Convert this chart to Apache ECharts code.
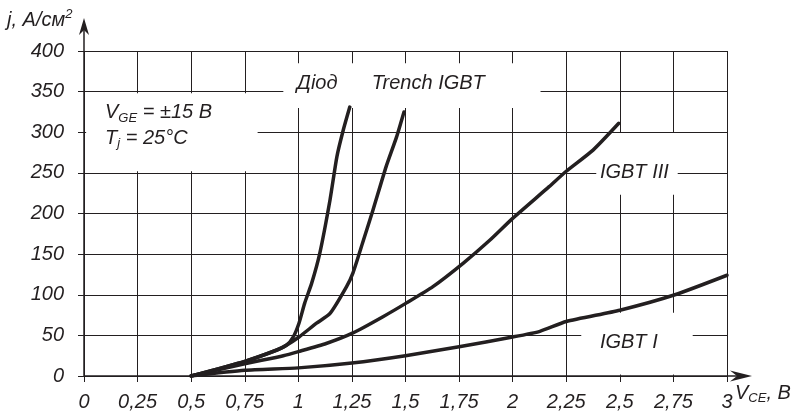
<!DOCTYPE html>
<html>
<head>
<meta charset="utf-8">
<script src="https://cdn.jsdelivr.net/npm/echarts@6/dist/echarts.min.js"></script>
<style>
  html, body { margin: 0; padding: 0; background: #fff; }
  #chart { width: 793px; height: 416px; }
</style>
</head>
<body>
<div id="chart"></div>
<script>
const xTickLabels = ['0', '0,25', '0,5', '0,75', '1', '1,25', '1,5', '1,75', '2', '2,25', '2,5', '2,75', '3'];
const yTickLabels = ['0', '50', '100', '150', '200', '250', '300', '350', '400'];

// V_CE, B  ->  j, A/cm2
const diodeV = [0.5, 0.75, 0.9, 0.945, 0.976, 1.003, 1.03, 1.062, 1.1, 1.148, 1.18, 1.21, 1.24];
const diodeJ = [0, 18, 32, 38, 48, 65, 90, 114, 151, 217, 270, 303, 331];

const trenchV = [0.5, 0.75, 0.9, 0.945, 1.003, 1.085, 1.148, 1.225, 1.255, 1.3, 1.348, 1.41, 1.458, 1.493];
const trenchJ = [0, 18, 32, 38, 48, 65, 77, 110, 127, 164, 204, 258, 294, 325];

const igbt3V = [0.5, 0.75, 0.93, 1.0, 1.13, 1.255, 1.395, 1.505, 1.628, 1.77, 1.893, 2.0, 2.17, 2.25, 2.375, 2.495];
const igbt3J = [0, 15, 25, 30, 40, 53, 73, 90, 110, 139, 167, 194, 233, 252, 278, 311];

const igbt1V = [0.5, 0.75, 1.0, 1.25, 1.5, 1.75, 2.0, 2.127, 2.25, 2.5, 2.757, 3.0];
const igbt1J = [0, 7, 10, 16, 25, 36, 48, 55, 67, 81, 100, 124];

const ink = '#231f20';
const font = '"Liberation Sans", Arial, sans-serif';

const chart = echarts.init(document.getElementById('chart'));

const pairs = (xs, ys) => xs.map((x, i) => [x, ys[i]]);
const curve = (name, xs, ys) => ({
  name,
  type: 'line',
  data: pairs(xs, ys),
  symbol: 'none',
  smooth: 0.2,
  lineStyle: { color: ink, width: 3.5, cap: 'round', join: 'round' },
  z: 5
});

const labelStyle = {
  fontStyle: 'italic',
  fontSize: 20,
  color: ink,
  fontFamily: font
};

chart.setOption({
  animation: false,
  grid: { left: 84, right: 66, top: 51, bottom: 40 },
  xAxis: {
    type: 'value',
    min: 0,
    max: 3,
    interval: 0.25,
    axisLine: { show: false },
    axisTick: { show: true, length: 6, lineStyle: { color: ink } },
    axisLabel: Object.assign({ margin: 16, formatter: v => xTickLabels[Math.round(v / 0.25)] }, labelStyle),
    splitLine: { lineStyle: { color: ink, width: 1 } }
  },
  yAxis: {
    type: 'value',
    min: 0,
    max: 400,
    interval: 50,
    axisLine: { show: false },
    axisTick: { show: true, length: 6, lineStyle: { color: ink } },
    axisLabel: Object.assign({ margin: 20, formatter: v => yTickLabels[Math.round(v / 50)] }, labelStyle),
    splitLine: { lineStyle: { color: ink, width: 1 } }
  },
  series: [
    curve('Діод', diodeV, diodeJ),
    curve('Trench IGBT', trenchV, trenchJ),
    curve('IGBT III', igbt3V, igbt3J),
    curve('IGBT I', igbt1V, igbt1J)
  ]
});

// annotations and axis arrows
const px = p => chart.convertToPixel({ gridIndex: 0 }, p);
const [x0, y0] = px([0, 0]);
const [, yTop] = px([0, 400]);
const [xEnd] = px([3, 0]);

const box = (xa, ya, xb, yb) => {
  const a = px([xa, ya]);
  const b = px([xb, yb]);
  return {
    type: 'rect',
    shape: { x: Math.min(a[0], b[0]), y: Math.min(a[1], b[1]), width: Math.abs(b[0] - a[0]), height: Math.abs(b[1] - a[1]) },
    style: { fill: '#fff' },
    z: 1
  };
};

const rich = {
  i: { fontStyle: 'italic', fontSize: 20, fontFamily: font, color: ink, lineHeight: 24 },
  s: { fontStyle: 'italic', fontSize: 13, fontFamily: font, color: ink, lineHeight: 13, verticalAlign: 'bottom' },
  sup: { fontStyle: 'italic', fontSize: 13, fontFamily: font, color: ink, lineHeight: 13, verticalAlign: 'top' }
};

const label = (text, at) => {
  const p = px(at);
  return {
    type: 'text',
    x: p[0],
    y: p[1],
    z: 20,
    style: { text, rich, verticalAlign: 'middle', align: 'left', fill: ink }
  };
};

chart.setOption({
  graphic: [
    box(0.01, 348, 0.81, 252),
    box(0.93, 385, 2.13, 330),
    box(2.39, 299, 2.77, 223),
    box(2.32, 78, 2.84, 2),
    label('{i|V}{s|GE}{i| = ±15 В}', [0.098, 324]),
    label('{i|T}{s|j}{i| = 25°C}', [0.098, 293]),
    label('{i|Діод}', [0.993, 360]),
    label('{i|Trench IGBT}', [1.343, 360]),
    label('{i|IGBT III}', [2.407, 251]),
    label('{i|IGBT I}', [2.407, 41]),
    // axes with arrows
    { type: 'line', shape: { x1: x0, y1: y0, x2: x0, y2: yTop - 28 }, style: { stroke: ink, lineWidth: 1.5 }, z: 30 },
    { type: 'line', shape: { x1: x0, y1: y0, x2: xEnd + 20, y2: y0 }, style: { stroke: ink, lineWidth: 1.5 }, z: 30 },
    { type: 'polygon', shape: { points: [[x0, yTop - 33], [x0 - 5, yTop - 16], [x0, yTop - 21], [x0 + 5, yTop - 16]] }, style: { fill: ink }, z: 30 },
    { type: 'polygon', shape: { points: [[xEnd + 25, y0], [xEnd + 3, y0 - 5.5], [xEnd + 10, y0], [xEnd + 3, y0 + 5.5]] }, style: { fill: ink }, z: 30 },
    { type: 'text', x: 7, y: yTop - 31, z: 20, style: { text: '{i|j, А/см}{sup|2}', rich, verticalAlign: 'middle', fill: ink } },
    { type: 'text', x: xEnd + 8, y: y0 + 17, z: 20, style: { text: '{i|V}{s|CE}{i|, В}', rich, verticalAlign: 'middle', fill: ink } }
  ]
});
</script>
</body>
</html>
